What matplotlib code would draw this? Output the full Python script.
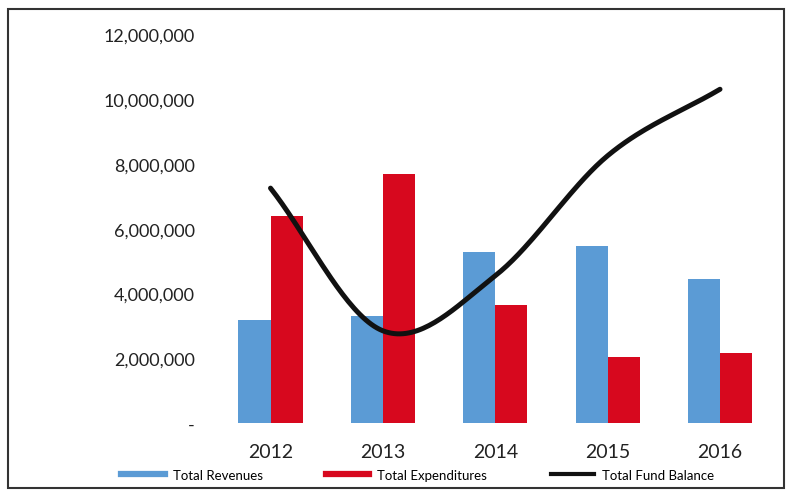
import numpy as np
import matplotlib.pyplot as plt
from matplotlib.lines import Line2D
from matplotlib.patches import Rectangle
from matplotlib.ticker import FuncFormatter

years = ["2012", "2013", "2014", "2015", "2016"]
revenues = [3180000, 3300000, 5280000, 5480000, 4450000]
expenditures = [6380000, 7680000, 3650000, 2050000, 2170000]
fund_balance = [7250000, 2850000, 4550000, 8250000, 10300000]

blue = '#5b9bd5'
red = '#d7081e'

plt.rcParams['font.family'] = ['Lato', 'DejaVu Sans']


# Catmull-Rom style smoothing, like Excel's "smoothed line"
def smooth(xs, ys, n=40):
    xs = np.asarray(xs, float); ys = np.asarray(ys, float)
    px = np.concatenate([[2*xs[0]-xs[1]], xs, [2*xs[-1]-xs[-2]]])
    py = np.concatenate([[2*ys[0]-ys[1]], ys, [2*ys[-1]-ys[-2]]])
    outx, outy = [], []
    for i in range(1, len(px)-2):
        t = np.linspace(0, 1, n)
        for arr, out in ((px, outx), (py, outy)):
            p0, p1, p2, p3 = arr[i-1], arr[i], arr[i+1], arr[i+2]
            out.extend(0.5*((2*p1) + (-p0+p2)*t + (2*p0-5*p1+4*p2-p3)*t**2
                            + (-p0+3*p1-3*p2+p3)*t**3))
    return np.array(outx), np.array(outy)


fig = plt.figure(figsize=(7.88, 5.02), dpi=100)
ax = fig.add_axes([0.272, 0.155, 0.713, 0.775])

x = np.arange(len(years))
w = 0.285
ax.bar(x - w/2, revenues, w, color=blue, label="Total Revenues")
ax.bar(x + w/2, expenditures, w, color=red, label="Total Expenditures")
sx, sy = smooth(x, fund_balance)
ax.plot(sx, sy, color='#111111', lw=3.6, solid_capstyle='round', label="Total Fund Balance")

ax.set_xlim(-0.5, len(years) - 0.5)
ax.set_ylim(0, 12000000)
ax.set_yticks(np.arange(0, 12000001, 2000000))
ax.yaxis.set_major_formatter(FuncFormatter(lambda v, p: '-' if v == 0 else f"{int(v):,}"))
ax.set_xticks(x)
ax.set_xticklabels(years)
ax.tick_params(axis='y', length=0, pad=14, labelsize=13, colors='#222222')
ax.tick_params(axis='x', length=0, pad=14, labelsize=14, colors='#222222')
for s in ax.spines.values():
    s.set_visible(False)

handles = [Line2D([], [], color=blue, lw=4.5),
           Line2D([], [], color=red, lw=4.5),
           Line2D([], [], color='#111111', lw=3)]
fig.legend(handles, ["Total Revenues", "Total Expenditures", "Total Fund Balance"],
           loc='center', bbox_to_anchor=(0.53, 0.052), ncol=3, frameon=False,
           fontsize=9.5, handlelength=3.3, handletextpad=0.6, columnspacing=4.8)

# scanned frame around the chart
fig.patches.append(Rectangle((0.01, 0.025), 0.985, 0.955, transform=fig.transFigure,
                             fill=False, edgecolor='#333333', lw=1.5))

fig.savefig("out.png", dpi=100)
